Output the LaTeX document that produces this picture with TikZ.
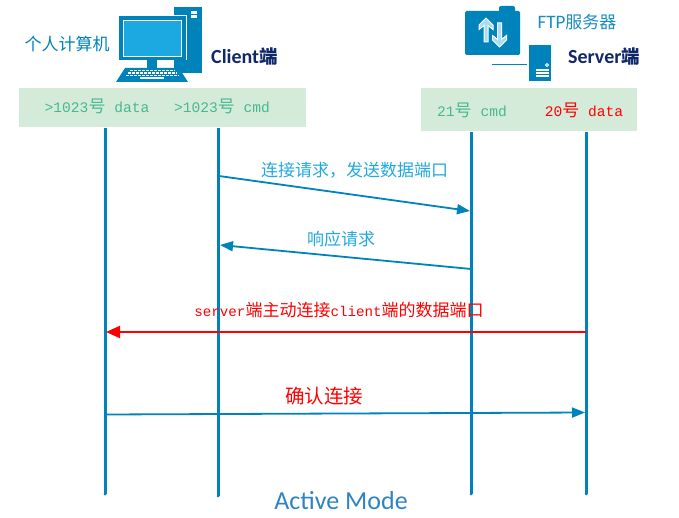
\documentclass[tikz,border=0pt]{standalone}
\usepackage{fontspec}
\setmainfont{Liberation Mono}
\newfontfamily\zhf{Noto Sans CJK SC}
\newfontfamily\latf{Carlito}
\newfontfamily\monof{Liberation Mono}
\usetikzlibrary{arrows.meta}
\definecolor{iconblue}{HTML}{0082BA}
\definecolor{skyb}{HTML}{1CA9E2}
\definecolor{labelb}{HTML}{22A8DE}
\definecolor{panelg}{HTML}{D5EBD9}
\definecolor{portg}{HTML}{46B98F}
\definecolor{navy}{HTML}{10286A}
\definecolor{titleb}{HTML}{2E84C0}
\definecolor{ftpb}{HTML}{1A8CC4}
\definecolor{arrowlight}{HTML}{A6DDF5}
\newcommand{\zh}[2][17]{{\zhf\fontsize{#1}{#1}\selectfont #2}}
\newcommand{\mo}[1]{{\monof\fontsize{14.6}{17}\selectfont #1}}
\newcommand{\mr}[1]{{\monof\fontsize{14.2}{17}\selectfont #1}}
\tikzset{
 x=1pt,y=-1pt,
 lifeline/.style={draw=iconblue,line width=3pt},
 msgblue/.style={draw=iconblue,line width=1.8pt,-{Triangle[length=13pt,width=10pt]}},
 msgred/.style={draw=red,line width=2pt,-{Triangle[length=14pt,width=12pt]}},
 panel/.style={fill=panelg,draw=none},
 lab/.style={inner sep=0pt,anchor=center},
 icon/.style={fill=iconblue,draw=none},
 whitefill/.style={fill=white,draw=none},
}
\begin{document}
\begin{tikzpicture}
\useasboundingbox (0,0) rectangle (679,518);
% panels
\fill[panel] (19,88) rectangle (306,127);
\fill[panel] (421,88) rectangle (637,131);
% lifelines
\foreach \n/\x/\t/\e in {a/105/128/494,b/218/128/496,c/471/132/494,d/586/132/494}{
  \coordinate (\n top) at (\x,\t);
  \coordinate (\n bot) at (\x,\e);
  \draw[lifeline] (\n top) -- (\n bot);
  \fill[iconblue] (\n bot) circle (1.5);
}
% message ends
\coordinate (m1s) at (219,176);\coordinate (m1e) at (470,211);
\coordinate (m2s) at (471,269);\coordinate (m2e) at (220,245);
\coordinate (m3s) at (586,332);\coordinate (m3e) at (106,332);
\coordinate (m4s) at (105,414.5);\coordinate (m4e) at (585,412.5);
\draw[msgblue] (m1s) -- (m1e);
\draw[msgblue] (m2s) -- (m2e);
\draw[msgred] (m3s) -- (m3e);
\draw[msgblue] (m4s) -- (m4e);
% labels
\node[lab,text=labelb] (l1) at (354.5,170) {\zh[17]{连接请求，发送数据端口}};
\node[lab,text=labelb] (l2) at (341,239) {\zh[17]{响应请求}};
\node[lab,text=red] (l3) at (339,310) {\mr{server}\zh[17]{端主动连接}\mr{client}\zh[17]{端的数据端口}};
\node[lab,text=red] (l4) at (324,396) {\zh[19.5]{确认连接}};
\node[lab,text=titleb] (title) at (341,501) {{\latf\fontsize{26}{28}\selectfont Active Mode}};
% port labels
\node[lab,text=portg] (p1) at (97,106) {\mo{>1023}\zh[17]{号}\mo{ data}};
\node[lab,text=portg] (p2) at (222,106) {\mo{>1023}\zh[17]{号}\mo{ cmd}};
\node[lab,text=portg] (p3) at (472,110) {\mo{21}\zh[17]{号}\mo{ cmd}};
\node[lab,text=red] (p4) at (584,110) {\mo{20}\zh[17]{号}\mo{ data}};
% headings
\node[lab,text=iconblue] (pc) at (67,44) {\zh[17]{个人计算机}};
\node[lab,anchor=west,text=navy] (cl) at (211,57) {{\latf\bfseries\fontsize{20}{22}\selectfont Client}\zh[18.5]{\bfseries 端}};
\node[lab,text=ftpb] (ftp) at (577,22) {{\latf\fontsize{19}{22}\selectfont FTP}\zh[17]{服务器}};
\node[lab,anchor=west,text=navy] (sv) at (568,57) {{\latf\bfseries\fontsize{20}{22}\selectfont Server}\zh[18.5]{\bfseries 端}};
% computer icon
\fill[icon] (174,7) rectangle (202,73);
\fill[white] (190.5,11.5) rectangle (196.5,14);
\fill[white] (190.5,15.5) rectangle (196.5,18.5);
\filldraw[fill=iconblue,draw=white,line width=1pt] (119,16) rectangle (186,60);
\fill[icon] (119,16) rectangle (186,60);
\filldraw[fill=skyb,draw=white,line width=1pt] (123.5,20.5) rectangle (181.5,56.5);
\fill[icon] (147,60) rectangle (157,68);
\fill[icon] (125,68) -- (179,68) -- (188,82) -- (116,82) -- cycle;
\foreach \r/\a/\b in {70.5/130/175,73/128/177,75.5/126/179}{
  \draw[white,line width=1.4pt,dash pattern=on 3pt off 1pt] (\a,\r) -- (\b,\r);
}
\fill[white] (139.5,77.5) rectangle (164,79.5);
% ftp folder icon
\fill[icon,rounded corners=1.5pt] (465,11) rectangle (520,55);
\fill[icon,rounded corners=2pt] (499,6) rectangle (515,14);
\filldraw[fill=arrowlight,draw=white,line width=1pt,line join=miter]
   (486,18) -- (479,25) -- (479,29.5) -- (484,25.5) -- (484,42) -- (488,42) -- (488,25.5) -- (493,29.5) -- (493,25) -- cycle;
\filldraw[fill=arrowlight,draw=white,line width=1pt,line join=miter]
   (499.5,47) -- (492.5,40) -- (492.5,35.5) -- (497.5,39.5) -- (497.5,23) -- (501.5,23) -- (501.5,39.5) -- (506.5,35.5) -- (506.5,40) -- cycle;
% server icon
\filldraw[fill=iconblue,draw=white,line width=1pt] (528,45) rectangle (551,82);
\coordinate (wireA) at (492,64);\coordinate (wireB) at (527,64);
\draw[iconblue,line width=0.8pt] (wireA) -- (wireB);
\draw[white,line width=0.8pt] (547,65) circle (1.5);
\fill[white] (536,69.5) rectangle (549,71);
\fill[white] (536,72.5) rectangle (549,74);
\fill[white] (536,75.5) rectangle (549,77);
\end{tikzpicture}
\end{document}
